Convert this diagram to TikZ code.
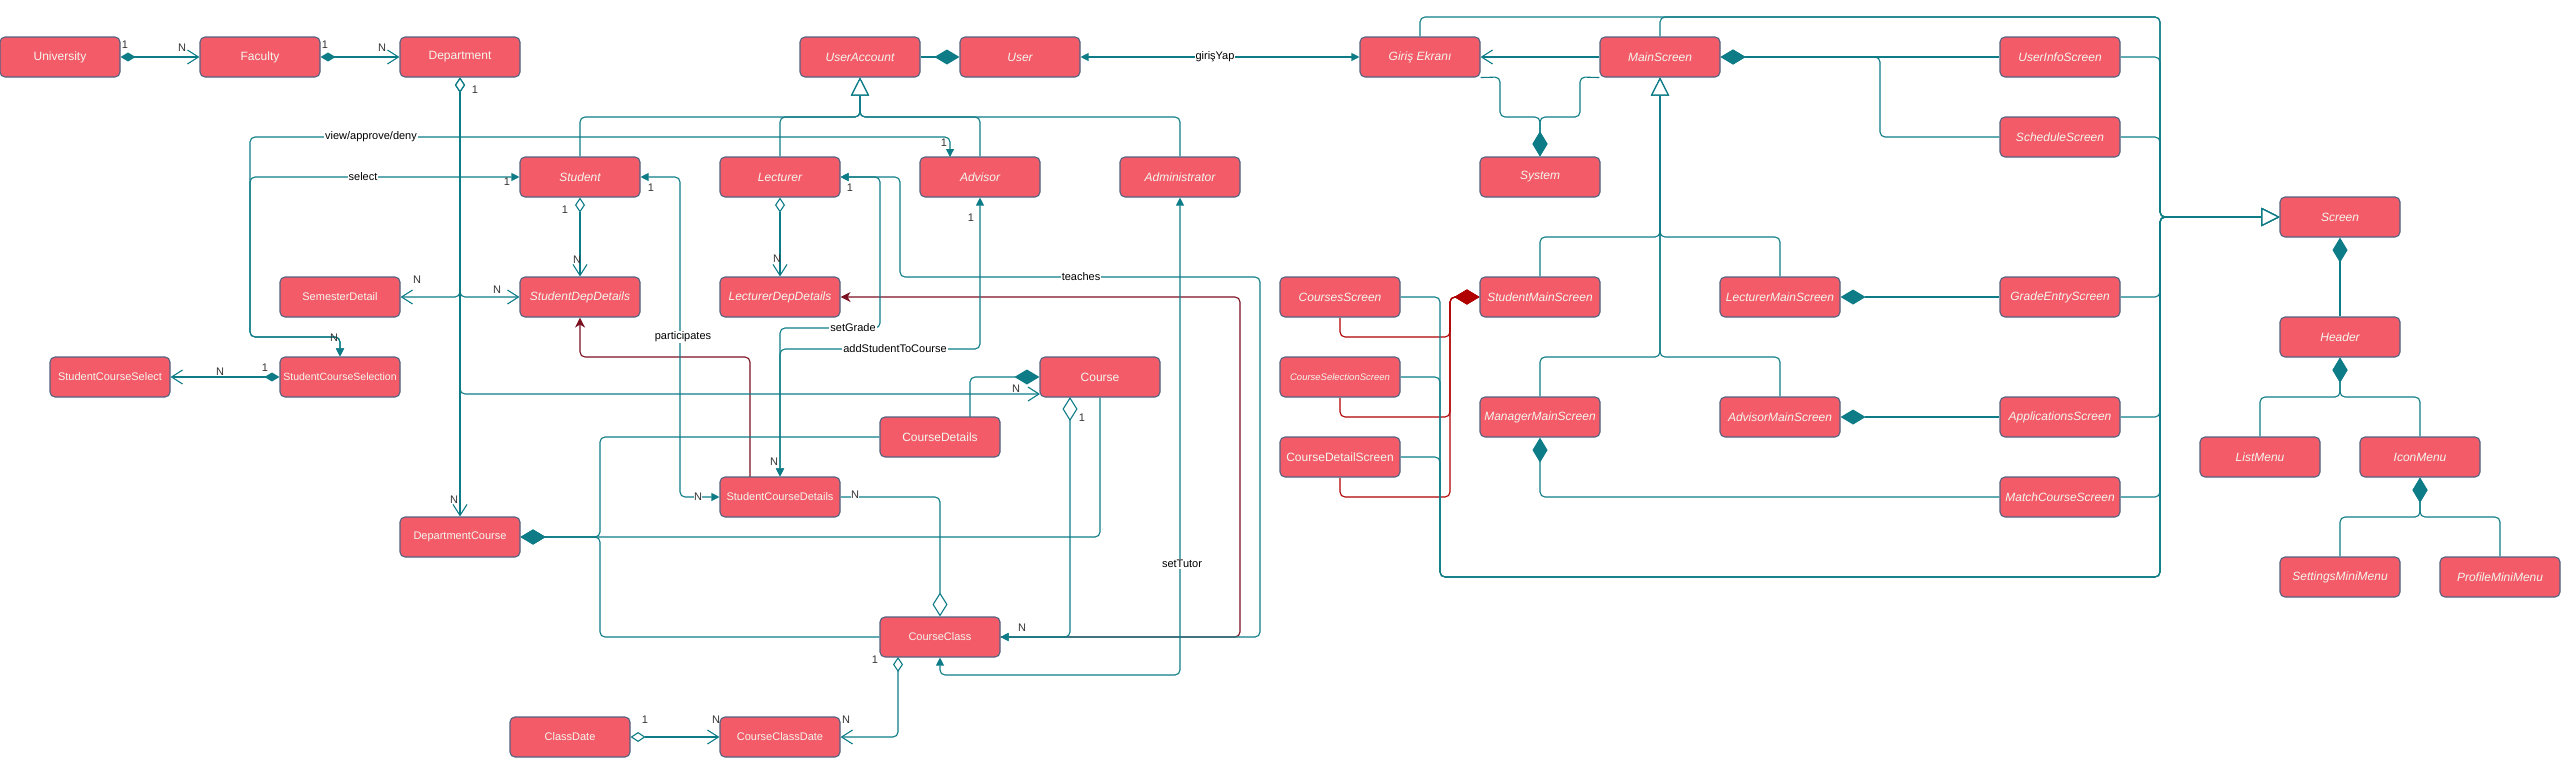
\documentclass[tikz,border=0pt]{standalone}
\usepackage{fontspec}
\setmainfont{Liberation Sans}
\usetikzlibrary{arrows.meta,backgrounds}
\definecolor{boxfill}{HTML}{F45B69}
\definecolor{boxline}{HTML}{52627F}
\definecolor{boxtxt}{HTML}{F3F6EE}
\definecolor{tealc}{HTML}{0E7C87}
\definecolor{maroonc}{HTML}{7A1020}
\definecolor{redc}{HTML}{B00000}
\definecolor{mulc}{HTML}{333333}
\tikzset{
  cls/.style={draw=boxline, fill=boxfill, rounded corners=5pt, minimum width=120pt, minimum height=40pt,
    inner sep=0pt, line width=1.1pt, text=boxtxt, font=\fontsize{12}{14}\selectfont},
  itc/.style={font=\fontsize{12}{14}\selectfont\itshape},
  sml/.style={font=\fontsize{11}{13}\selectfont},
  edge/.style={draw=tealc, line width=1.1pt, rounded corners=5pt},
  mline/.style={draw=maroonc, line width=1.1pt, rounded corners=5pt},
  rline/.style={draw=redc, line width=1.1pt, rounded corners=5pt},
  lbl/.style={fill=white, inner sep=1pt, text=black, font=\fontsize{11}{13}\selectfont},
  mul/.style={inner sep=0.5pt, text=mulc, font=\fontsize{11}{13}\selectfont},
  mulf/.style={mul, fill=white},
  tDL/.tip={Diamond[length=25pt,width=15pt]},
  tDS/.tip={Diamond[length=15pt,width=9pt]},
  tODL/.tip={Diamond[open,fill=white,length=24pt,width=15pt]},
  tODS/.tip={Diamond[open,fill=white,length=15pt,width=10pt]},
  tRDL/.tip={Diamond[length=25pt,width=15pt,color=redc]},
  tOpen/.tip={Straight Barb[length=11pt,width=14pt]},
  tBlk/.tip={Triangle[length=8pt,width=8pt]},
  tTri/.tip={Triangle[open,fill=white,length=18pt,width=18pt]},
  tStl/.tip={Stealth[length=10pt,width=10pt,inset=3pt]}
}
\begin{document}
\begin{tikzpicture}[x=1pt,y=-1pt]
\useasboundingbox (0,0) rectangle (2561,758);
% ---------------- nodes ----------------
\node[cls] (uni) at (60,57) {University};
\node[cls] (fac) at (260,57) {Faculty};
\node[cls] (dep) at (460,57) {Department};
\node[cls,itc] (ua) at (860,57) {UserAccount};
\node[cls,itc] (usr) at (1020,57) {User};
\node[cls,itc] (gir) at (1420,57) {Giriş Ekranı};
\node[cls,itc] (ms) at (1660,57) {MainScreen};
\node[cls,itc] (uis) at (2060,57) {UserInfoScreen};
\node[cls,itc] (sch) at (2060,137) {ScheduleScreen};
\node[cls,itc] (stu) at (580,177) {Student};
\node[cls,itc] (lec) at (780,177) {Lecturer};
\node[cls,itc] (adv) at (980,177) {Advisor};
\node[cls,itc] (adm) at (1180,177) {Administrator};
\node[cls,itc] (sys) at (1540,177) {System};
\node[cls,itc] (scr) at (2340,217) {Screen};
\node[cls,sml] (sem) at (340,297) {SemesterDetail};
\node[cls,itc] (sdd) at (580,297) {StudentDepDetails};
\node[cls,itc] (ldd) at (780,297) {LecturerDepDetails};
\node[cls,itc] (cs) at (1340,297) {CoursesScreen};
\node[cls,itc] (sms) at (1540,297) {StudentMainScreen};
\node[cls,itc] (lms) at (1780,297) {LecturerMainScreen};
\node[cls,itc] (ges) at (2060,297) {GradeEntryScreen};
\node[cls,itc] (hdr) at (2340,337) {Header};
\node[cls,sml] (scsel) at (110,377) {StudentCourseSelect};
\node[cls,font=\fontsize{10.5}{12}\selectfont] (scs) at (340,377) {StudentCourseSelection};
\node[cls] (crs) at (1100,377) {Course};
\node[cls,font=\fontsize{9.5}{11}\selectfont\itshape] (css) at (1340,377) {CourseSelectionScreen};
\node[cls,itc] (mms) at (1540,417) {ManagerMainScreen};
\node[cls,itc] (ams) at (1780,417) {AdvisorMainScreen};
\node[cls,itc] (aps) at (2060,417) {ApplicationsScreen};
\node[cls] (cd) at (940,437) {CourseDetails};
\node[cls] (cdsc) at (1340,457) {CourseDetailScreen};
\node[cls,itc] (lm) at (2260,457) {ListMenu};
\node[cls,itc] (im) at (2420,457) {IconMenu};
\node[cls,sml] (scd) at (780,497) {StudentCourseDetails};
\node[cls,itc] (mcs) at (2060,497) {MatchCourseScreen};
\node[cls,sml] (dc) at (460,537) {DepartmentCourse};
\node[cls,itc] (smm) at (2340,577) {SettingsMiniMenu};
\node[cls,itc] (pmm) at (2500,577) {ProfileMiniMenu};
\node[cls,sml] (cc) at (940,637) {CourseClass};
\node[cls,sml] (cdt) at (570,737) {ClassDate};
\node[cls,sml] (ccd) at (780,737) {CourseClassDate};
% free ends
\coordinate (crsin) at (1040,394);
\coordinate (advin) at (950,157);
\coordinate (scdred) at (750,477);
\coordinate (cdtop) at (970,417);
\coordinate (crsbot) at (1070,397);
\coordinate (ccbot) at (898,657);
% ---------------- connectors ----------------
\begin{scope}[on background layer]
% maroon / red
\draw[mline,-tStl] (cc.east) -- (1240,637) -- (1240,297) -- (ldd.east);
\draw[mline,-tStl] (scdred) -- (750,357) -- (580,357) -- (sdd.south);
\draw[rline,-tRDL] (cs.south) -- (1340,337) -- (1450,337) -- (1450,297) -- (sms.west);
\draw[rline,-tRDL] (css.south) -- (1340,417) -- (1450,417) -- (1450,297) -- (sms.west);
\draw[rline,-tRDL] (cdsc.south) -- (1340,497) -- (1450,497) -- (1450,297) -- (sms.west);
% university chain
\draw[edge,tDS-tOpen] (uni.east) -- (fac.west);
\draw[edge,tDS-tOpen] (fac.east) -- (dep.west);
% department aggregation
\draw[edge,tODS-tOpen] (dep.south) |- (sem.east);
\draw[edge,tODS-tOpen] (dep.south) |- (sdd.west);
\draw[edge,tODS-tOpen] (dep.south) -- (dc.north);
\draw[edge,tODS-tOpen] (dep.south) |- (crsin);
% view / select
\draw[edge,tBlk-tBlk] (advin) -- (950,137) -- (250,137) -- (250,337) -- (340,337) -- (scs.north);
\draw[edge,tBlk-tBlk] (stu.west) -- (250,177) -- (250,337) -- (340,337) -- (scs.north);
\draw[edge,tDS-tOpen] (scs.west) -- (scsel.east);
% inheritance UserAccount
\draw[edge,-tTri] (stu.north) -- (580,117) -- (860,117) -- (ua.south);
\draw[edge,-tTri] (lec.north) -- (780,117) -- (860,117) -- (ua.south);
\draw[edge,-tTri] (adv.north) -- (980,117) -- (860,117) -- (ua.south);
\draw[edge,-tTri] (adm.north) -- (1180,117) -- (860,117) -- (ua.south);
\draw[edge,-tDL] (ua.east) -- (usr.west);
\draw[edge,tBlk-tBlk] (usr.east) -- (gir.west);
\draw[edge,-tOpen] (ms.west) -- (gir.east);
\draw[edge,-tDL] (gir.south east) -- (1500,77) -- (1500,117) -- (1540,117) -- (sys.north);
\draw[edge,-tDL] (ms.south west) -- (1580,77) -- (1580,117) -- (1540,117) -- (sys.north);
% Screen bus
\draw[edge,-tTri] (gir.north) -- (1420,17) -- (2160,17) -- (2160,217) -- (scr.west);
\draw[edge,-tTri] (ms.north) -- (1660,17) -- (2160,17) -- (2160,217) -- (scr.west);
\draw[edge,-tTri] (uis.east) -- (2160,57) -- (2160,217) -- (scr.west);
\draw[edge,-tTri] (sch.east) -- (2160,137) -- (2160,217) -- (scr.west);
\draw[edge,-tTri] (ges.east) -- (2160,297) -- (2160,217) -- (scr.west);
\draw[edge,-tTri] (aps.east) -- (2160,417) -- (2160,217) -- (scr.west);
\draw[edge,-tTri] (mcs.east) -- (2160,497) -- (2160,217) -- (scr.west);
\draw[edge,-tTri] (cs.east) -- (1440,297) -- (1440,577) -- (2160,577) -- (2160,217) -- (scr.west);
\draw[edge,-tTri] (css.east) -- (1440,377) -- (1440,577) -- (2160,577) -- (2160,217) -- (scr.west);
\draw[edge,-tTri] (cdsc.east) -- (1440,457) -- (1440,577) -- (2160,577) -- (2160,217) -- (scr.west);
% MainScreen composition and inheritance
\draw[edge,tDL-] (ms.east) -- (uis.west);
\draw[edge,tDL-] (ms.east) -- (1880,57) -- (1880,137) -- (sch.west);
\draw[edge,-tTri] (sms.north) -- (1540,237) -- (1660,237) -- (ms.south);
\draw[edge,-tTri] (lms.north) -- (1780,237) -- (1660,237) -- (ms.south);
\draw[edge,-tTri] (mms.north) -- (1540,357) -- (1660,357) -- (ms.south);
\draw[edge,-tTri] (ams.north) -- (1780,357) -- (1660,357) -- (ms.south);
\draw[edge,tDL-] (lms.east) -- (ges.west);
\draw[edge,tDL-] (ams.east) -- (aps.west);
\draw[edge,tDL-] (mms.south) -- (1540,497) -- (mcs.west);
% Screen composition
\draw[edge,tDL-] (scr.south) -- (hdr.north);
\draw[edge,tDL-] (hdr.south) -- (2340,397) -- (2260,397) -- (lm.north);
\draw[edge,tDL-] (hdr.south) -- (2340,397) -- (2420,397) -- (im.north);
\draw[edge,tDL-] (im.south) -- (2420,517) -- (2340,517) -- (smm.north);
\draw[edge,tDL-] (im.south) -- (2420,517) -- (2500,517) -- (pmm.north);
% Student / Lecturer details
\draw[edge,tODS-tOpen] (stu.south) -- (sdd.north);
\draw[edge,tODS-tOpen] (lec.south) -- (ldd.north);
% associations
\draw[edge,tBlk-tBlk] (stu.east) -- (680,177) -- (680,497) -- (scd.west);
\draw[edge,tBlk-tBlk] (lec.east) -- (880,177) -- (880,328) -- (780,328) -- (scd.north);
\draw[edge,tBlk-tBlk] (lec.east) -- (900,177) -- (900,277) -- (1260,277) -- (1260,637) -- (cc.east);
\draw[edge,tBlk-tBlk] (adv.south) -- (980,349) -- (780,349) -- (scd.north);
\draw[edge,tBlk-tBlk] (adm.south) -- (1180,675) -- (940,675) -- (cc.south);
% course
\draw[edge,-tDL] (cdtop) -- (970,377) -- (crs.west);
\draw[edge,tDL-] (dc.east) -- (600,537) -- (600,437) -- (cd.west);
\draw[edge,tDL-] (dc.east) -- (600,537) -- (600,637) -- (cc.west);
\draw[edge,tDL-] (dc.east) -- (1100,537) -- (crs.south);
\draw[edge,tODL-tBlk] (crsbot) -- (1070,637) -- (cc.east);
\draw[edge,-tODL] (scd.east) -- (940,497) -- (cc.north);
\draw[edge,tODS-tOpen] (ccbot) -- (898,737) -- (ccd.east);
\draw[edge,tODS-tOpen] (cdt.east) -- (ccd.west);
\end{scope}
% ---------------- labels ----------------
\node[lbl] at (371,137) {view/approve/deny};
\node[lbl] at (363,177) {select};
\node[lbl] at (683,337) {participates};
\node[lbl] at (853,328) {setGrade};
\node[lbl] at (895,349) {addStudentToCourse};
\node[lbl] at (1081,277) {teaches};
\node[lbl] at (1182,564) {setTutor};
\node[lbl] at (1215,57) {girişYap};
% multiplicities
\node[mul] at (125,45) {1};
\node[mul] at (182,48) {N};
\node[mul] at (325,45) {1};
\node[mul] at (382,48) {N};
\node[mul] at (475,90) {1};
\node[mul] at (417,280) {N};
\node[mul] at (497,290) {N};
\node[mul] at (454,500) {N};
\node[mul] at (1016,389) {N};
\node[mul] at (507,182) {1};
\node[mul] at (651,188) {1};
\node[mul] at (565,210) {1};
\node[mul] at (577,260) {N};
\node[mul] at (850,188) {1};
\node[mul] at (777,259) {N};
\node[mul] at (944,143) {1};
\node[mul] at (971,218) {1};
\node[mul] at (334,338) {N};
\node[mul] at (220,372) {N};
\node[mul] at (265,368) {1};
\node[mul] at (1082,418) {1};
\node[mul] at (774,462) {N};
\node[mulf] at (698,497) {N};
\node[mulf] at (855,495) {N};
\node[mul] at (1022,628) {N};
\node[mul] at (875,660) {1};
\node[mul] at (846,720) {N};
\node[mul] at (716,720) {N};
\node[mul] at (645,720) {1};
\end{tikzpicture}
\end{document}
